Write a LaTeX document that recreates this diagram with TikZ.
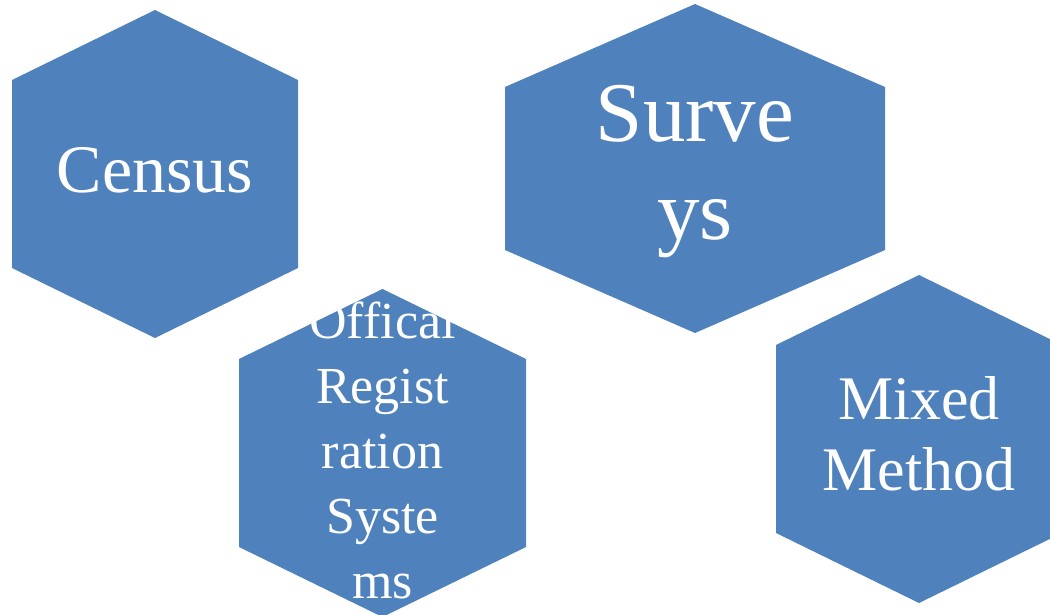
\documentclass[tikz,border=0pt]{standalone}
\usepackage{fontspec}
\setmainfont{Liberation Serif}

\definecolor{cellblue}{RGB}{79,129,189}
\tikzset{
  celltext/.style={text=white, align=center, inner sep=0pt},
}
% hexagon: centre x, centre y, half width, half height, shoulder
\newcommand\hexcell[5]{%
  \fill[cellblue] (#1,#2) ++(0,-#4) -- ++(#3,#4-#5) -- ++(0,2*#5)
    -- ++(-#3,#4-#5) -- ++(-#3,#5-#4) -- ++(0,-2*#5) -- cycle;}

\begin{document}
\begin{tikzpicture}[x=1pt,y=-1pt]
  \clip (0,0) rectangle (1050,615);
  \hexcell{155}{174}{143}{164}{94}
  \hexcell{695}{168.5}{190}{164.5}{81.5}
  \hexcell{382.5}{453}{143.5}{164}{94}
  \hexcell{919}{439}{143}{164}{94}
  \node[celltext, font=\fontsize{68}{80}\selectfont] (census) at (155,170) {Census};
  \node[celltext, font=\fontsize{85}{98}\selectfont] (surveys) at (695,171.5) {Surve\\ys};
  \node[celltext, font=\fontsize{52}{65}\selectfont] (registration) at (382.5,450.5)
    {Offical\\Regist\\ration\\Syste\\ms};
  \node[celltext, font=\fontsize{62}{71}\selectfont] (mixed) at (919,433.5) {Mixed\\Method};
\end{tikzpicture}
\end{document}
